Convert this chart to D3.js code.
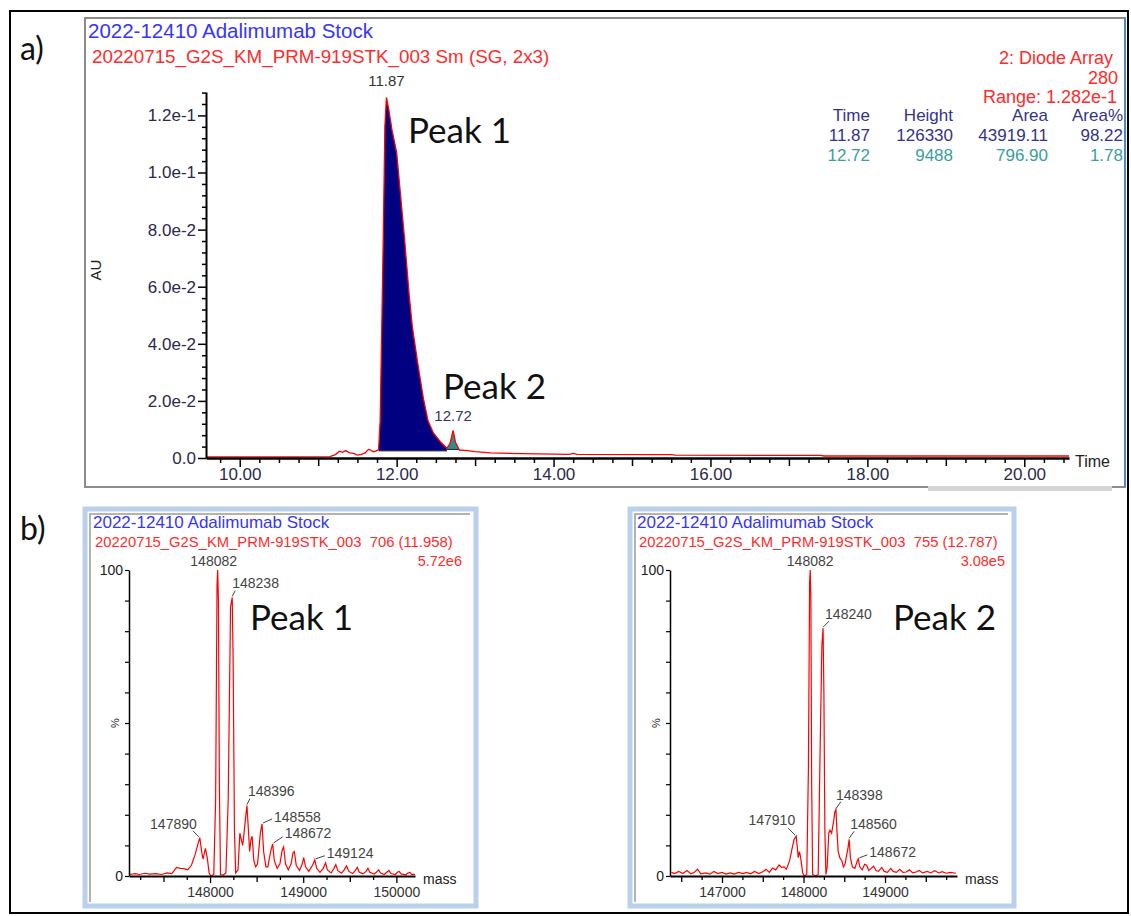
<!DOCTYPE html>
<html>
<head>
<meta charset="utf-8">
<style>
  body { margin: 0; background: #fff; }
  svg text { font-family: "Liberation Sans", Arial, sans-serif; }
  .big { font-family: Lato, "Open Sans", sans-serif; fill: #111; }
</style>
<script src="https://d3js.org/d3.v7.min.js"></script>
</head>
<body>
<svg width="1131" height="916"></svg>
<script>

// ---- a) UV chromatogram, [time (min), AU]
var chromatogram = [
  [9.57, 0.0004], [10.50, 0.0004], [11.15, 0.0005], [11.22, 0.0012], [11.27, 0.0024],
  [11.31, 0.0020], [11.35, 0.0026], [11.40, 0.0018], [11.45, 0.0016], [11.50, 0.0010],
  [11.55, 0.0013], [11.60, 0.0018], [11.64, 0.0030], [11.67, 0.0028], [11.70, 0.0022],
  [11.74, 0.0025], [11.77, 0.0030], [11.79, 0.0130], [11.81, 0.0450], [11.83, 0.0780],
  [11.85, 0.1160], [11.87, 0.1263], [11.90, 0.1220], [11.94, 0.1150], [12.00, 0.1070],
  [12.04, 0.0950], [12.10, 0.0770], [12.16, 0.0570], [12.20, 0.0460], [12.27, 0.0330],
  [12.34, 0.0210], [12.40, 0.0130], [12.47, 0.0087], [12.56, 0.0056], [12.64, 0.0034],
  [12.68, 0.0050], [12.72, 0.0097], [12.75, 0.0055], [12.80, 0.0028], [12.90, 0.0026],
  [13.00, 0.0022], [13.20, 0.0018], [13.60, 0.0015], [14.20, 0.0013], [14.25, 0.0016],
  [14.30, 0.0013], [15.50, 0.0012], [15.55, 0.0010], [17.40, 0.0009], [17.45, 0.0007],
  [20.57, 0.0007]
];
// integrated peaks: [start, end, baseline AU]
var integPeaks = [[11.77, 12.64, 0.0025], [12.64, 12.80, 0.0030]];
var peakColors = ["#000080", "#2a8f8f"];
var chromXLabels = [10, 12, 14, 16, 18, 20];
var chromYTicks = [0, 0.02, 0.04, 0.06, 0.08, 0.10, 0.12];
var chromYLabels = ["0.0", "2.0e-2", "4.0e-2", "6.0e-2", "8.0e-2", "1.0e-1", "1.2e-1"];
var peakTable = [
  ["Time", "Height", "Area", "Area%"],
  ["11.87", "126330", "43919.11", "98.22"],
  ["12.72", "9488", "796.90", "1.78"]
];

// ---- b) deconvoluted mass spectra, [mass (Da), %]
var spec1 = [
  [147130, 0.5], [147200, 0.8], [147240, 0.5], [147300, 0.9], [147350, 0.6], [147420, 0.8],
  [147480, 0.5], [147540, 1.0], [147590, 0.8], [147640, 2.8], [147680, 2.5], [147720, 2.4],
  [147760, 2.0], [147800, 3.5], [147840, 7], [147875, 11], [147890, 12.5], [147910, 8],
  [147925, 5.5], [147950, 9], [147970, 6], [147990, 1], [148010, 0], [148040, 0.5],
  [148060, 25], [148075, 95], [148082, 100], [148090, 90], [148100, 30], [148112, 0.5],
  [148140, 0.3], [148170, 1], [148195, 25], [148220, 88], [148238, 91], [148248, 70],
  [148262, 15], [148275, 1], [148300, 2], [148320, 14], [148335, 12], [148350, 10],
  [148365, 14], [148385, 20], [148396, 23], [148412, 15], [148425, 8], [148440, 12],
  [148452, 13], [148470, 5], [148490, 3], [148510, 4], [148540, 14], [148558, 17],
  [148575, 8], [148600, 3], [148620, 3], [148650, 8], [148672, 10.5], [148690, 5],
  [148720, 2.5], [148750, 4], [148775, 8.5], [148790, 9.5], [148810, 4], [148840, 2],
  [148870, 4], [148890, 7.5], [148905, 8], [148925, 3.5], [148960, 1.8], [148990, 4],
  [149005, 6], [149025, 3], [149060, 1.5], [149100, 3.5], [149124, 5.3], [149145, 2.5],
  [149180, 1.2], [149215, 2.5], [149240, 4.3], [149260, 2], [149300, 1], [149330, 2.5],
  [149350, 3.7], [149370, 1.8], [149410, 0.9], [149440, 2], [149465, 3.3], [149490, 1.5],
  [149530, 0.8], [149560, 1.8], [149580, 2.8], [149600, 1.3], [149640, 0.7], [149675, 1.5],
  [149695, 2.5], [149715, 1.2], [149760, 0.6], [149790, 1.4], [149810, 2], [149830, 1],
  [149870, 0.5], [149900, 1.3], [149920, 1.8], [149940, 0.8], [149990, 0.5], [150010, 1.2],
  [150030, 1.5], [150050, 0.7], [150100, 0.4], [150125, 1], [150145, 1.2], [150165, 0.5],
  [150200, 0.5]
];
var spec2 = [
  [146380, 1.2], [146420, 0.8], [146470, 1.5], [146520, 0.8], [146570, 1.8], [146620, 0.7],
  [146660, 1.2], [146700, 2.2], [146740, 0.7], [146800, 1.0], [146850, 0.6], [146900, 1.5],
  [146950, 0.8], [147000, 1.2], [147050, 0.6], [147100, 1.0], [147150, 0.6], [147200, 1.2],
  [147260, 0.8], [147300, 1.2], [147350, 0.7], [147400, 1.5], [147450, 0.8], [147500, 1.4],
  [147540, 2.2], [147580, 1.2], [147620, 2.6], [147660, 2.0], [147700, 3.6], [147730, 2.8],
  [147760, 3], [147790, 2.2], [147830, 5], [147860, 9], [147885, 12], [147910, 13],
  [147925, 9], [147935, 6], [147950, 8], [147965, 6], [147990, 1], [148010, 0],
  [148040, 0.5], [148060, 35], [148075, 96], [148082, 100], [148090, 92], [148100, 30],
  [148112, 0.5], [148150, 0], [148180, 0.5], [148200, 35], [148225, 75], [148240, 81],
  [148250, 60], [148262, 15], [148275, 0.5], [148290, 3], [148310, 14], [148325, 15],
  [148345, 14], [148370, 18], [148385, 21], [148398, 21.7], [148410, 15], [148425, 8],
  [148445, 6], [148470, 5], [148490, 3], [148510, 4], [148530, 7], [148545, 9],
  [148560, 12], [148575, 6], [148600, 3], [148630, 2.5], [148660, 5], [148672, 5.6],
  [148690, 3], [148720, 2], [148750, 3.8], [148775, 3.5], [148800, 1.8], [148830, 2.5],
  [148860, 3.2], [148890, 1.8], [148920, 1.5], [148960, 2.8], [148990, 1.5], [149030, 1.2],
  [149070, 2.5], [149100, 1.5], [149140, 1.2], [149180, 2.2], [149220, 1.2], [149260, 1.3],
  [149300, 2], [149340, 1], [149380, 1.3], [149420, 1.8], [149460, 1], [149520, 1.5],
  [149560, 1], [149610, 1.7], [149660, 1.0], [149700, 1.4], [149750, 0.9], [149800, 1.2],
  [149870, 0.9]
];
var spec1Labels = [147890, 148082, 148238, 148396, 148558, 148672, 149124];
var spec2Labels = [147910, 148082, 148240, 148398, 148560, 148672];
var spec1XLabels = [148000, 149000, 150000];
var spec2XLabels = [147000, 148000, 149000];

var title = "2022-12410 Adalimumab Stock";
var red = "#ff2b2b", blue = "#3535ff", ink = "#2a2a4a";

var svg = d3.select("svg");

// ---------- frames
svg.append("rect").attr("x", 10).attr("y", 11).attr("width", 1118).attr("height", 902)
  .attr("fill", "none").attr("stroke", "#000").attr("stroke-width", 2);
svg.append("rect").attr("x", 85).attr("y", 18).attr("width", 1040).attr("height", 469)
  .attr("fill", "none").attr("stroke", "#8c8c8c").attr("stroke-width", 2);
svg.append("line").attr("x1", 1125).attr("x2", 1125).attr("y1", 18).attr("y2", 487)
  .attr("stroke", "#4a86d8").attr("stroke-width", 2);
svg.append("rect").attr("x", 928).attr("y", 486).attr("width", 184).attr("height", 5).attr("fill", "#d4d4d4");

function specFrame(x0, x1) {
  svg.append("rect").attr("x", x0).attr("y", 509).attr("width", x1 - x0).attr("height", 397)
    .attr("fill", "none").attr("stroke", "#b9d1ea").attr("stroke-width", 5);
  svg.append("path").attr("d", "M" + (x0 + 5) + ",902V514H" + (x1 - 6))
    .attr("fill", "none").attr("stroke", "#9a9a9a").attr("stroke-width", 1.5);
}
specFrame(85, 476);
specFrame(630, 1014);

svg.append("text").attr("class", "big").attr("x", 20).attr("y", 60).style("font-size", "32px").text("a)");
svg.append("text").attr("class", "big").attr("x", 20).attr("y", 540).style("font-size", "32px").text("b)");

// ---------- a) chromatogram
var x = d3.scaleLinear().domain([9.57, 20.57]).range([206, 1069]);
var y = d3.scaleLinear().domain([0, 0.1282]).range([458, 92]);

svg.append("text").attr("x", 88).attr("y", 38).attr("fill", blue).style("font-size", "20.5px").text(title);
svg.append("text").attr("x", 92).attr("y", 63).attr("fill", red).style("font-size", "18.8px")
  .text("20220715_G2S_KM_PRM-919STK_003 Sm (SG, 2x3)");

svg.append("text").attr("x", 1113).attr("y", 64).attr("text-anchor", "end").attr("fill", red)
  .style("font-size", "18px").text("2: Diode Array");
svg.append("text").attr("x", 1118).attr("y", 84).attr("text-anchor", "end").attr("fill", red)
  .style("font-size", "18px").text("280");
svg.append("text").attr("x", 1117).attr("y", 103).attr("text-anchor", "end").attr("fill", red)
  .style("font-size", "18px").text("Range: 1.282e-1");

var colX = [870, 953, 1048, 1123];
var rowY = [121, 141, 161];
var rowColor = ["#33338a", "#33338a", "#3a9e9e"];
peakTable.forEach(function (row, i) {
  row.forEach(function (cell, j) {
    svg.append("text").attr("x", colX[j]).attr("y", rowY[i]).attr("text-anchor", "end")
      .attr("fill", rowColor[i]).style("font-size", "17px").text(cell);
  });
});

// filled peak areas
integPeaks.forEach(function (p, i) {
  var pts = chromatogram.filter(function (d) { return d[0] >= p[0] && d[0] <= p[1]; });
  var area = d3.area().x(function (d) { return x(d[0]); })
    .y0(y(p[2])).y1(function (d) { return y(d[1]); });
  svg.append("path").datum(pts).attr("d", area).attr("fill", peakColors[i]);
  svg.append("line").attr("x1", x(p[0])).attr("x2", x(p[1])).attr("y1", y(p[2])).attr("y2", y(p[2]))
    .attr("stroke", "#222").attr("stroke-width", 1);
});

svg.append("path").datum(chromatogram)
  .attr("d", d3.line().x(function (d) { return x(d[0]); }).y(function (d) { return y(d[1]); }))
  .attr("fill", "none").attr("stroke", "#ff0000").attr("stroke-width", 1.3);

// axes
var isEven = function (d) { return Math.abs(d - Math.round(d)) < 1e-6 && Math.round(d) % 2 === 0; };
var xAxis = svg.append("g").attr("transform", "translate(0,458)")
  .call(d3.axisBottom(x).tickValues(d3.range(9.75, 20.51, 0.25)).tickSizeOuter(0)
    .tickFormat(function (d) { return chromXLabels.indexOf(Math.round(d)) >= 0 && isEven(d) ? d.toFixed(2) : ""; }));
xAxis.selectAll(".tick line").attr("y2", function (d) {
  if (isEven(d)) return 9;
  if (Math.abs(d - Math.round(d)) < 1e-6) return 8;
  return 5;
}).attr("stroke-width", 1.5);
xAxis.selectAll(".tick text").attr("y", 10).attr("fill", ink).style("font-size", "17px");
xAxis.select(".domain").attr("stroke-width", 2.5);

var yAxis = svg.append("g").attr("transform", "translate(206,0)")
  .call(d3.axisLeft(y).tickValues(d3.range(0, 0.1282, 0.004)).tickSizeOuter(0)
    .tickFormat(function (d) {
      var k = chromYTicks.findIndex(function (t) { return Math.abs(t - d) < 1e-6; });
      return k >= 0 ? chromYLabels[k] : "";
    }));
yAxis.selectAll(".tick line").attr("x2", function (d) {
  return chromYTicks.some(function (t) { return Math.abs(t - d) < 1e-6; }) ? -8 : -4;
}).attr("stroke-width", 1.5);
yAxis.selectAll(".tick text").attr("x", -10).attr("fill", ink).style("font-size", "17px");
yAxis.select(".domain").attr("stroke-width", 2);

svg.append("text").attr("x", 1075).attr("y", 467).attr("fill", "#222").style("font-size", "16px").text("Time");
svg.append("text").attr("transform", "translate(101,270) rotate(-90)").attr("text-anchor", "middle")
  .attr("fill", "#222").style("font-size", "15px").text("AU");

svg.append("text").attr("x", x(11.87)).attr("y", 86).attr("text-anchor", "middle")
  .attr("fill", "#333").style("font-size", "15px").text("11.87");
svg.append("text").attr("x", x(12.72)).attr("y", 421).attr("text-anchor", "middle")
  .attr("fill", "#333360").style("font-size", "15px").text("12.72");

svg.append("text").attr("class", "big").attr("x", 408).attr("y", 143).style("font-size", "35px").text("Peak 1");
svg.append("text").attr("class", "big").attr("x", 443).attr("y", 399).style("font-size", "35px").text("Peak 2");

// ---------- b) spectra
function drawSpectrum(o) {
  var sx = d3.scaleLinear().domain(o.domain).range(o.range);
  var sy = d3.scaleLinear().domain([0, 100]).range([876, 570]);

  svg.append("text").attr("x", o.left + 5).attr("y", 528).attr("fill", blue).style("font-size", "17px").text(title);
  svg.append("text").attr("x", o.left + 7).attr("y", 547).attr("fill", red).style("font-size", "14.8px")
    .attr("xml:space", "preserve").text(o.header);
  svg.append("text").attr("x", o.right).attr("y", 566).attr("text-anchor", "end").attr("fill", red)
    .style("font-size", "14.5px").text(o.scale);

  svg.append("path").datum(o.data)
    .attr("d", d3.line().x(function (d) { return sx(d[0]); }).y(function (d) { return sy(d[1]); }))
    .attr("fill", "none").attr("stroke", "#ff0000").attr("stroke-width", 1.2);

  var first = Math.ceil(o.domain[0] / 250) * 250;
  var xa = svg.append("g").attr("transform", "translate(0,876)")
    .call(d3.axisBottom(sx).tickValues(d3.range(first, o.domain[1], 250)).tickSizeOuter(0)
      .tickFormat(function (d) { return o.xLabels.indexOf(d) >= 0 ? d : ""; }));
  xa.selectAll(".tick line").attr("y2", function (d) { return d % 1000 === 0 ? 7 : (d % 500 === 0 ? 6 : 4); })
    .attr("stroke-width", 1.3);
  xa.selectAll(".tick text").attr("y", 11).attr("fill", "#333").style("font-size", "14px");
  xa.select(".domain").attr("stroke-width", 2);

  var ya = svg.append("g").attr("transform", "translate(" + o.range[0] + ",0)")
    .call(d3.axisLeft(sy).tickValues(d3.range(0, 101, 10)).tickSizeOuter(0)
      .tickFormat(function (d) { return d === 0 || d === 100 ? d : ""; }));
  ya.selectAll(".tick line").attr("x2", -4).attr("stroke-width", 1.2);
  ya.selectAll(".tick text").attr("x", -6).attr("fill", "#222").style("font-size", "14px");
  ya.select(".domain").attr("stroke-width", 1.5);
  svg.append("text").attr("transform", "translate(" + (o.range[0] - 14) + "," + sy(50) + ") rotate(-90)")
    .attr("text-anchor", "middle").attr("dy", "0.35em").attr("fill", "#222").style("font-size", "11px").text("%");

  svg.append("text").attr("x", o.range[1] + 8).attr("y", 884).attr("fill", "#222").style("font-size", "14px").text("mass");

  o.labels.forEach(function (m, i) {
    var v = o.data.find(function (d) { return d[0] === m; })[1];
    var px = sx(m), py = sy(v), L = o.layout[i];
    if (L.leader) {
      svg.append("line").attr("x1", px + L.leader[0]).attr("y1", py + L.leader[1])
        .attr("x2", px + L.leader[2]).attr("y2", py + L.leader[3])
        .attr("stroke", "#444").attr("stroke-width", 1);
    }
    svg.append("text").attr("x", px + L.dx).attr("y", py + L.dy).attr("text-anchor", L.anchor)
      .attr("fill", "#444").style("font-size", "14px").text(m);
  });

  svg.append("text").attr("class", "big").attr("x", o.peakX).attr("y", 630).style("font-size", "35px").text(o.peakName);
}

drawSpectrum({
  data: spec1, domain: [147130, 150200], range: [129, 415], left: 88, right: 462,
  header: "20220715_G2S_KM_PRM-919STK_003  706 (11.958)", scale: "5.72e6",
  xLabels: spec1XLabels, labels: spec1Labels, peakName: "Peak 1", peakX: 250,
  layout: [
    { dx: -3, dy: -9, anchor: "end", leader: [-1, -1, -7, -7] },
    { dx: -4, dy: -4, anchor: "middle" },
    { dx: 0, dy: -10, anchor: "start", leader: [0, -1, 3, -7] },
    { dx: 1, dy: -10, anchor: "start", leader: [0, -1, 3, -7] },
    { dx: 12, dy: -2, anchor: "start", leader: [1, -1, 10, -5] },
    { dx: 12, dy: -6, anchor: "start", leader: [1, -1, 10, -7] },
    { dx: 12, dy: -2, anchor: "start", leader: [1, -1, 10, -4] }
  ]
});

drawSpectrum({
  data: spec2, domain: [146362, 149883], range: [670, 957], left: 632, right: 1005,
  header: "20220715_G2S_KM_PRM-919STK_003  755 (12.787)", scale: "3.08e5",
  xLabels: spec2XLabels, labels: spec2Labels, peakName: "Peak 2", peakX: 893,
  layout: [
    { dx: -1, dy: -11, anchor: "end", leader: [-1, -1, -8, -8] },
    { dx: 0, dy: -4, anchor: "middle" },
    { dx: 2, dy: -9, anchor: "start", leader: [0, -1, 6, -7] },
    { dx: 0, dy: -10, anchor: "start", leader: [0, -1, 5, -8] },
    { dx: 1, dy: -10, anchor: "start", leader: [0, -1, 5, -8] },
    { dx: 11, dy: -2, anchor: "start", leader: [1, -1, 9, -4] }
  ]
});

</script>
</body>
</html>
